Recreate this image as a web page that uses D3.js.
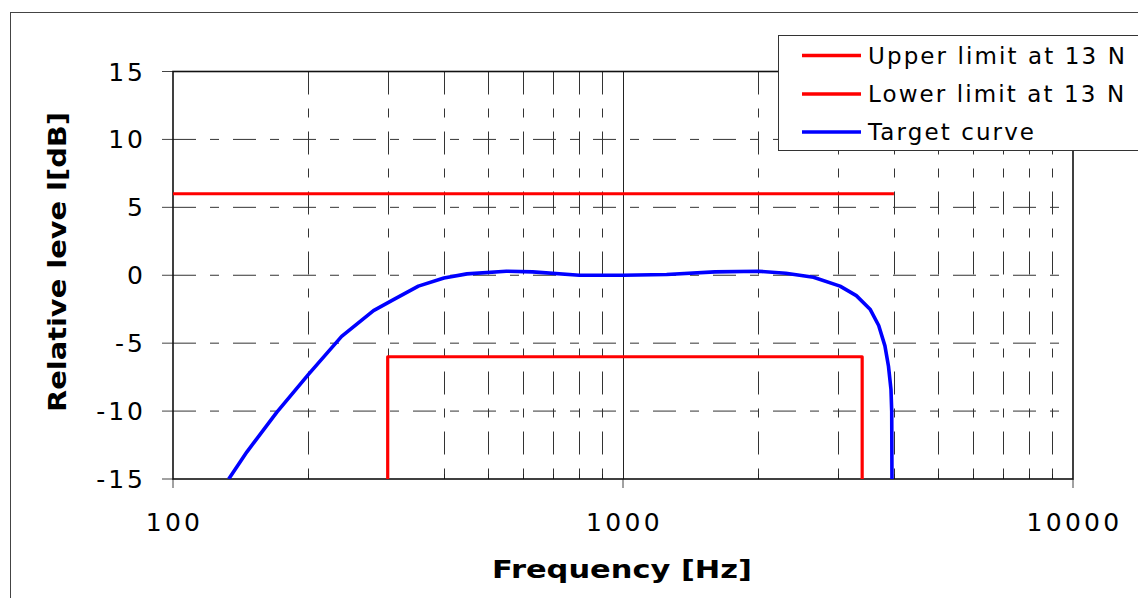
<!DOCTYPE html>
<html>
<head>
<meta charset="utf-8">
<script src="https://cdn.jsdelivr.net/npm/d3@7"></script>
<style>
  html, body { margin: 0; padding: 0; background: #fff; }
  svg { display: block; font-family: "DejaVu Sans", Verdana, sans-serif; }
</style>
</head>
<body>
<svg id="chart" width="1138" height="598"></svg>
<script>
// ---- data ----
const seriesNames = ["Upper limit at 13 N", "Lower limit at 13 N", "Target curve"];
const seriesColors = ["#ff0000", "#ff0000", "#0000ff"];

const upperFreq = [100, 4000];
const upperDb   = [6, 6];

const lowerFreq = [300, 300, 3400, 3400];
const lowerDb   = [-15, -6, -6, -15];

const targetFreq = [133, 146, 170, 200, 237, 279, 309, 351, 400, 450, 550, 630, 800, 1000, 1250, 1600, 2000, 2300, 2650, 3036, 3300, 3540, 3700, 3820, 3890, 3940, 3955, 3960];
const targetDb   = [-15, -13.0, -10.1, -7.3, -4.5, -2.6, -1.8, -0.8, -0.2, 0.1, 0.3, 0.25, 0.0, 0.0, 0.05, 0.25, 0.3, 0.15, -0.15, -0.8, -1.5, -2.5, -3.7, -5.2, -6.7, -8.4, -10.0, -15];

const xTickValues = [100, 1000, 10000];
const xTickLabels = ["100", "1000", "10000"];
const xMinorValues = [200, 300, 400, 500, 600, 700, 800, 900, 2000, 3000, 4000, 5000, 6000, 7000, 8000, 9000];
const yTickValues = [-15, -10, -5, 0, 5, 10, 15];

const xTitle = "Frequency [Hz]";
const yTitle = "Relative leve l[dB]";

// ---- layout ----
const svg = d3.select("#chart");
const L = 173, R = 1073, T = 71.5, B = 479;
const x = d3.scaleLog().domain([100, 10000]).range([L, R]);
const y = d3.scaleLinear().domain([-15, 15]).range([B, T]);
const dash = "23,14,9,14";

// outer border
svg.append("rect").attr("x", 10.5).attr("y", 12.5).attr("width", 1200).attr("height", 700)
  .attr("fill", "#fff").attr("stroke", "#444").attr("stroke-width", 1);

// plot area
svg.append("rect").attr("x", L).attr("y", T).attr("width", R - L).attr("height", B - T).attr("fill", "#fff");

// horizontal grid lines (dash-dot)
svg.append("g").selectAll("line").data(yTickValues.filter(v => v > -15 && v < 15)).join("line")
  .attr("x1", L).attr("x2", R).attr("y1", d => y(d)).attr("y2", d => y(d))
  .attr("stroke", "#333").attr("stroke-width", 1).attr("stroke-dasharray", dash);

// vertical minor grid lines
svg.append("g").selectAll("line").data(xMinorValues).join("line")
  .attr("x1", d => Math.round(x(d)) + 0.5).attr("x2", d => Math.round(x(d)) + 0.5)
  .attr("y1", T).attr("y2", B)
  .attr("stroke", "#333").attr("stroke-width", 1).attr("stroke-dasharray", dash);

// major vertical grid (1000)
svg.append("line").attr("x1", Math.round(x(1000)) + 0.5).attr("x2", Math.round(x(1000)) + 0.5)
  .attr("y1", T).attr("y2", B).attr("stroke", "#222").attr("stroke-width", 1);

// minor ticks at bottom (inside)
svg.append("g").selectAll("line").data(xMinorValues).join("line")
  .attr("x1", d => Math.round(x(d)) + 0.5).attr("x2", d => Math.round(x(d)) + 0.5)
  .attr("y1", B - 5).attr("y2", B)
  .attr("stroke", "#222").attr("stroke-width", 1);

// major x ticks (outside)
svg.append("g").selectAll("line").data(xTickValues).join("line")
  .attr("x1", d => x(d)).attr("x2", d => x(d)).attr("y1", B).attr("y2", B + 9)
  .attr("stroke", "#444").attr("stroke-width", 1);

// y ticks (outside)
svg.append("g").selectAll("line").data(yTickValues).join("line")
  .attr("x1", L - 11).attr("x2", L).attr("y1", d => y(d)).attr("y2", d => y(d))
  .attr("stroke", "#444").attr("stroke-width", 1);

// plot frame
svg.append("rect").attr("x", L).attr("y", T).attr("width", R - L).attr("height", B - T)
  .attr("fill", "none").attr("stroke", "#111").attr("stroke-width", 1.6);

// y tick labels
svg.append("g").selectAll("text").data(yTickValues).join("text")
  .attr("x", 146).attr("y", d => y(d)).attr("dy", "0.36em")
  .attr("text-anchor", "end").attr("font-size", 25).attr("letter-spacing", 3)
  .attr("fill", "#000").text(d => d);

// x tick labels
svg.append("g").selectAll("text").data(xTickValues).join("text")
  .attr("x", (d, i) => x(d) + 1.5).attr("y", 531)
  .attr("text-anchor", "middle").attr("font-size", 25).attr("letter-spacing", 3.3)
  .attr("fill", "#000").text((d, i) => xTickLabels[i]);

// axis titles (wide bold face: stretch glyphs horizontally to the reference width)
function stretchedTitle(txt, cx, cy, targetW, rot) {
  const g = svg.append("g").attr("transform", `translate(${cx},${cy}) rotate(${rot})`);
  const t = g.append("text").attr("text-anchor", "middle")
    .attr("font-size", 25).attr("font-weight", "bold").attr("fill", "#000").text(txt);
  const w = t.node().getComputedTextLength();
  t.attr("transform", `scale(${targetW / w},1)`);
}
stretchedTitle(xTitle, 622, 578, 260, 0);
stretchedTitle(yTitle, 66, 262, 300, -90);

// series lines
const line = d3.line().x(d => x(d[0])).y(d => y(d[1]));
svg.append("clipPath").attr("id", "clip").append("rect")
  .attr("x", L).attr("y", T - 2).attr("width", R - L).attr("height", B - T + 2);

const seriesData = [
  d3.zip(upperFreq, upperDb),
  d3.zip(lowerFreq, lowerDb),
  d3.zip(targetFreq, targetDb)
];
svg.append("g").attr("clip-path", "url(#clip)").selectAll("path").data(seriesData).join("path")
  .attr("d", line).attr("fill", "none")
  .attr("stroke", (d, i) => seriesColors[i])
  .attr("stroke-width", (d, i) => i === 2 ? 3.6 : 3.2)
  .attr("stroke-linejoin", "round");

// legend
const lg = svg.append("g");
lg.append("rect").attr("x", 778.5).attr("y", 35.5).attr("width", 400).attr("height", 115)
  .attr("fill", "#fff").attr("stroke", "#333").attr("stroke-width", 1);
const rowsY = [55.5, 94, 132];
seriesNames.forEach((name, i) => {
  lg.append("line").attr("x1", 802).attr("x2", 861).attr("y1", rowsY[i]).attr("y2", rowsY[i])
    .attr("stroke", seriesColors[i]).attr("stroke-width", 3.4);
  lg.append("text").attr("x", 868).attr("y", rowsY[i]).attr("dy", "0.36em")
    .attr("font-size", 23).attr("letter-spacing", 2.1).attr("fill", "#000").text(name);
});
</script>
</body>
</html>
